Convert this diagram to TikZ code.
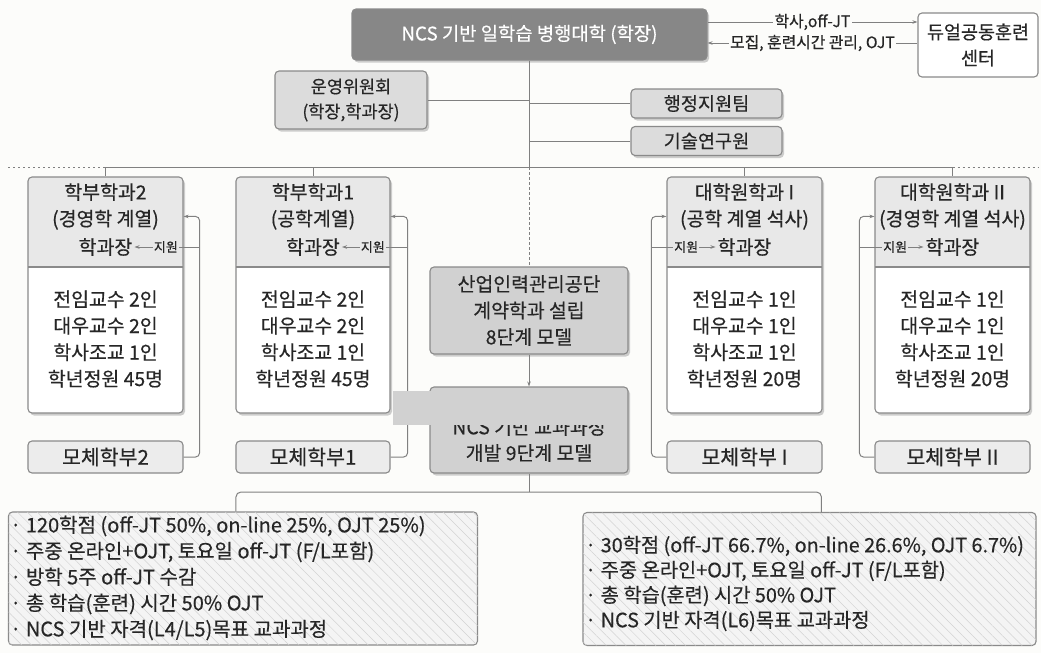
\documentclass[tikz,border=0pt]{standalone}
\usepackage{fontspec}
\setmainfont{Noto Sans CJK KR}[FakeBold=0.4]
\usetikzlibrary{arrows.meta,shadows,patterns.meta,calc}
\definecolor{bord}{HTML}{8A8A8A}
\definecolor{connc}{HTML}{808080}
\definecolor{titlefill}{HTML}{878787}
\definecolor{midfill}{HTML}{D1D1D1}
\definecolor{boxfill}{HTML}{DCDCDC}
\definecolor{hdrfill}{HTML}{E8E8E8}
\definecolor{motherfill}{HTML}{ECECEC}
\definecolor{hatchbg}{HTML}{F4F4F4}
\definecolor{hatchc}{HTML}{D2D2D2}
\definecolor{bgc}{HTML}{FCFCFA}
\definecolor{txt}{HTML}{262626}
\tikzset{
  x=1pt, y=-1pt,
  base/.style={draw=bord, line width=1.1pt, rounded corners=4pt, inner sep=0pt, align=center, text=txt,
    font=\fontsize{19.4pt}{26.5pt}\selectfont},
  shad/.style={drop shadow={shadow xshift=2pt, shadow yshift=-2.5pt, fill=black!35, opacity=0.55}},
  titlebox/.style={base, shad, fill=titlefill, text=white, font=\fontsize{18.8pt}{24pt}\selectfont},
  graybox/.style={base, shad, fill=boxfill, font=\fontsize{18.6pt}{25pt}\selectfont},
  midbox/.style={base, shad, fill=midfill},
  whitebox/.style={base, fill=white, font=\fontsize{18.5pt}{26pt}\selectfont},
  motherbox/.style={base, fill=motherfill, font=\fontsize{20.5pt}{24pt}\selectfont},
  deptbox/.style={base, shad, fill=white,
    path picture={\fill[hdrfill] (path picture bounding box.north west) rectangle ([yshift=-90pt]path picture bounding box.north east);
      \draw[bord, line width=1.1pt] ([yshift=-90pt]path picture bounding box.north west) -- ([yshift=-90pt]path picture bounding box.north east);}},
  hatchbox/.style={base, fill=hatchbg, postaction={pattern={Lines[angle=-45,distance=7pt,line width=0.5pt]}, pattern color=hatchc}},
  txtnode/.style={inner sep=0pt, align=center, text=txt, font=\fontsize{19.4pt}{26.5pt}\selectfont},
  listnode/.style={inner sep=0pt, align=left, text=txt, font=\fontsize{20pt}{26pt}\selectfont},
  smalllbl/.style={inner sep=1pt, text=txt, font=\fontsize{13pt}{14pt}\selectfont},
  arrlbl/.style={inner sep=1.5pt, fill=bgc, text=txt, font=\fontsize{15.8pt}{17pt}\selectfont},
  conn/.style={draw=connc, line width=1pt},
  tip/.style={-{Stealth[length=5pt,width=3.5pt]}},
  dotline/.style={conn, dash pattern=on 2pt off 3pt},
}
\begin{document}
\begin{tikzpicture}
\useasboundingbox (0,0) rectangle (1041,653);
\fill[bgc] (0,0) rectangle (1041,653);

% top level
\node[titlebox, minimum width=355pt, minimum height=51pt] (title) at (529.5,34.5) {NCS 기반 일학습 병행대학 (학장)};
\node[whitebox, minimum width=120pt, minimum height=64pt] (dual) at (978,45) {듀얼공동훈련\\센터};
\draw[conn, tip] ([yshift=12.5pt]title.east) -- ([yshift=12.5pt]title.east -| dual.west)
  node[arrlbl, midway] (lblA) {학사,off-JT};
\draw[conn, tip] ([yshift=-8.5pt]title.east -| dual.west) -- ([yshift=-8.5pt]title.east)
  node[arrlbl, midway] (lblB) {모집, 훈련시간 관리, OJT};

\node[graybox, minimum width=152pt, minimum height=58pt, font=\fontsize{17.5pt}{25pt}\selectfont] (unyoung) at (351,100) {운영위원회\\(학장,학과장)};
\node[graybox, minimum width=151pt, minimum height=29pt] (haeng) at (706.5,103.5) {행정지원팀};
\node[graybox, minimum width=151pt, minimum height=29pt] (gisul) at (706.5,141) {기술연구원};

\coordinate (hl) at (529,167);
\coordinate (hlL) at (8,167);
\coordinate (hlR) at (1038,167);

% departments
\node[deptbox, minimum width=155pt, minimum height=236pt] (d2) at (105.5,295) {};
\node[deptbox, minimum width=154pt, minimum height=236pt] (d1) at (313,295) {};
\node[deptbox, minimum width=155pt, minimum height=236pt] (dA) at (744.5,295) {};
\node[deptbox, minimum width=155pt, minimum height=236pt] (dB) at (952.5,295) {};

\node[txtnode] (h2) at (105.5,206.5) {학부학과2\\(경영학 계열)};
\node[txtnode] (h1) at (313,206.5) {학부학과1\\(공학계열)};
\node[txtnode] (hA) at (744.5,206.5) {대학원학과 I\\(공학 계열 석사)};
\node[txtnode] (hB) at (952.5,206.5) {대학원학과 II\\(경영학 계열 석사)};

\node[txtnode, inner sep=2pt] (k2) at (105.5,247) {학과장};
\node[txtnode, inner sep=2pt] (k1) at (313,247) {학과장};
\node[txtnode, inner sep=2pt] (kA) at (744.5,247) {학과장};
\node[txtnode, inner sep=2pt] (kB) at (952.5,247) {학과장};

\node[txtnode] (b2) at (105.5,339) {전임교수 2인\\대우교수 2인\\학사조교 1인\\학년정원 45명};
\node[txtnode] (b1) at (313,339) {전임교수 2인\\대우교수 2인\\학사조교 1인\\학년정원 45명};
\node[txtnode] (bA) at (744.5,339) {전임교수 1인\\대우교수 1인\\학사조교 1인\\학년정원 20명};
\node[txtnode] (bB) at (952.5,339) {전임교수 1인\\대우교수 1인\\학사조교 1인\\학년정원 20명};

\node[motherbox, minimum width=155pt, minimum height=32pt] (m2) at (105.5,457) {모체학부2};
\node[motherbox, minimum width=154pt, minimum height=32pt] (m1) at (313,457) {모체학부1};
\node[motherbox, minimum width=155pt, minimum height=32pt] (mA) at (744.5,457) {모체학부 I};
\node[motherbox, minimum width=155pt, minimum height=32pt] (mB) at (952.5,457) {모체학부 II};

% center column
\node[midbox, minimum width=198pt, minimum height=87pt] (sanup) at (529,310.5) {산업인력관리공단\\계약학과 설립\\8단계 모델};
\node[midbox, minimum width=198pt, minimum height=86pt] (ncs) at (529,430) {};
\node[txtnode, font=\fontsize{19.4pt}{26pt}\selectfont] (ncst) at (529,440) {NCS 기반 교과과정\\개발 9단계 모델};

% bottom boxes
\node[hatchbox, minimum width=469pt, minimum height=133pt] (bl) at (243,578.5) {};
\node[hatchbox, minimum width=453pt, minimum height=133pt] (br) at (809.5,579) {};
\node[listnode, anchor=west] (blt) at (10,578) {· 120학점 (off-JT 50\%, on-line 25\%, OJT 25\%)\\· 주중 온라인+OJT, 토요일 off-JT (F/L포함)\\· 방학 5주 off-JT 수감\\· 총 학습(훈련) 시간 50\% OJT\\· NCS 기반 자격(L4/L5)목표 교과과정};
\node[listnode, anchor=west, font=\fontsize{19.8pt}{25pt}\selectfont] (brt) at (585,583.5) {· 30학점 (off-JT 66.7\%, on-line 26.6\%, OJT 6.7\%)\\· 주중 온라인+OJT, 토요일 off-JT (F/L포함)\\· 총 학습(훈련) 시간 50\% OJT\\· NCS 기반 자격(L6)목표 교과과정};

% connectors
\draw[conn] (title.south) -- (title.south |- hl);
\draw[conn] (unyoung.east) -- (unyoung.east -| title.south);
\draw[conn] (haeng.west) -- (haeng.west -| title.south);
\draw[conn] (gisul.west) -- (gisul.west -| title.south);
\draw[conn] (d2.north |- hl) -- (dB.north |- hl);
\draw[dotline] (hlL) -- (d2.north |- hl);
\draw[dotline] (dB.north |- hl) -- (hlR);
\draw[conn] (d2.north |- hl) -- (d2.north);
\draw[conn] (d1.north |- hl) -- (d1.north);
\draw[conn] (dA.north |- hl) -- (dA.north);
\draw[conn] (dB.north |- hl) -- (dB.north);
\draw[conn, dash pattern=on 3pt off 2pt] (sanup.north |- hl) -- (sanup.north);
\draw[conn, tip] (sanup.south) -- (ncs.north);

% support lines (left side)
\node[smalllbl, anchor=east] (s2) at (179,247) {지원};
\node[smalllbl, anchor=east] (s1) at (386,247) {지원};
\draw[conn, tip, rounded corners=4pt] (m2.east) -- ++(16pt,0) |- ([yshift=-40pt]d2.north east);
\draw[conn] ([xshift=16pt]m2.east |- s2.east) -- (s2.east);
\draw[conn, tip] (s2.west) -- (k2.east);
\draw[conn, tip, rounded corners=4pt] (m1.east) -- ++(17pt,0) |- ([yshift=-40pt]d1.north east);
\draw[conn] ([xshift=17pt]m1.east |- s1.east) -- (s1.east);
\draw[conn, tip] (s1.west) -- (k1.east);

% support lines (right side)
\node[smalllbl, anchor=west] (sA) at (673,247) {지원};
\node[smalllbl, anchor=west] (sB) at (882,247) {지원};
\draw[conn, tip, rounded corners=4pt] (mA.west) -- ++(-15pt,0) |- ([yshift=-40pt]dA.north west);
\draw[conn] ([xshift=-15pt]mA.west |- sA.west) -- (sA.west);
\draw[conn, tip] (sA.east) -- (kA.west);
\draw[conn, tip, rounded corners=4pt] (mB.west) -- ++(-15pt,0) |- ([yshift=-40pt]dB.north west);
\draw[conn] ([xshift=-15pt]mB.west |- sB.west) -- (sB.west);
\draw[conn, tip] (sB.east) -- (kB.west);

% bottom connectors
\coordinate (bj) at (529,492);
\draw[conn] (ncs.south) -- (bj);
\draw[conn, rounded corners=5pt] ([xshift=228pt]bl.north west) |- (bj) -| ([xshift=239pt]br.north west);

% grey overlay patch seen in the reference
\fill[midfill] (393,391) rectangle (626,425);
\end{tikzpicture}
\end{document}
